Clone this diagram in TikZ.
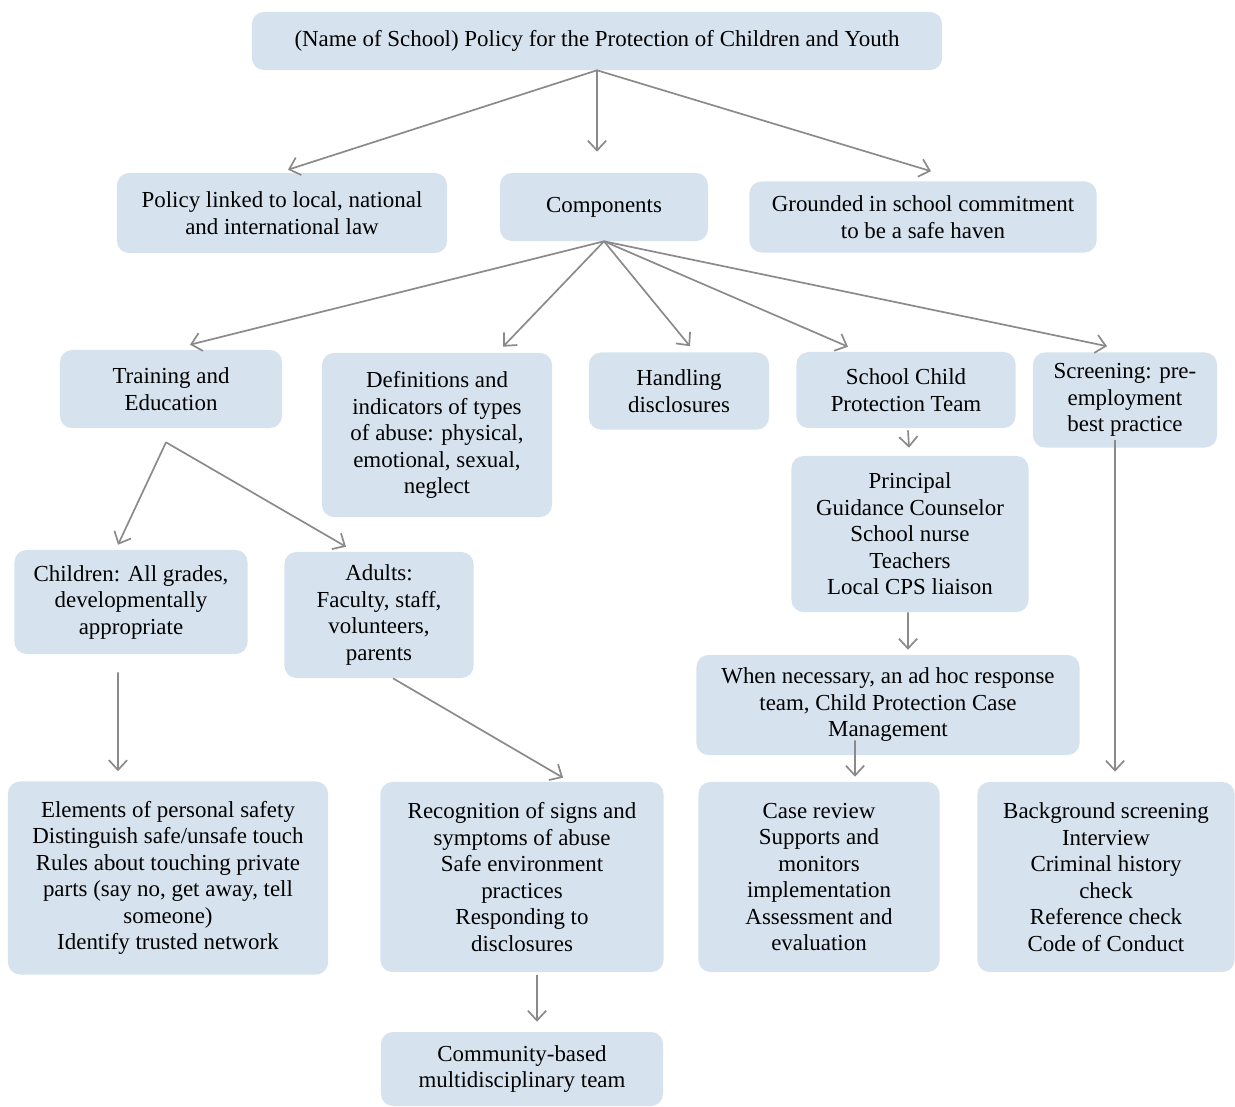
\documentclass[tikz,border=0pt]{standalone}
\usepackage{fontspec}
\setmainfont{Liberation Serif}
\usetikzlibrary{arrows.meta}

\definecolor{boxblue}{RGB}{214,227,238}
\definecolor{arrgrey}{RGB}{138,138,138}

\tikzset{
  box/.style={fill=boxblue,rounded corners=0.3cm,align=center,inner sep=0pt,
    font=\fontsize{16.3}{18.85}\selectfont},
  arr/.style={draw=arrgrey,line width=1.2pt,-{Straight Barb[length=7pt,width=13pt]}}
}

\begin{document}
\begin{tikzpicture}[x=0.025cm,y=-0.025cm]

\useasboundingbox (0,0) rectangle (1235,1106);

%Policy

\node[box,minimum width=17.25cm,minimum height=1.45cm] (top) at (597,41)
  {(Name of School) Policy for the Protection of Children and Youth};

\node[box,minimum width=8.25cm,minimum height=2cm] (law) at (282,213)
  {Policy linked to local, national\\and international law};
\node[box,minimum width=5.2cm,minimum height=1.7cm] (comp) at (604,207) {Components};
\node[box,minimum width=8.675cm,minimum height=1.775cm] (haven) at (923,217)
  {Grounded in school commitment\\to be a safe haven};

%Components

\node[box,minimum width=5.55cm,minimum height=1.95cm] (train) at (171,389)
  {Training and\\Education};
\node[box,minimum width=5.75cm,minimum height=4.1cm] (defs) at (437,435)
  {Definitions and\\indicators of types\\of abuse: physical,\\emotional, sexual,\\neglect};
\node[box,minimum width=4.5cm,minimum height=1.925cm] (disc) at (679,391)
  {Handling\\disclosures};
\node[box,minimum width=5.475cm,minimum height=1.9cm] (team) at (906,390)
  {School Child\\Protection Team};
\node[box,minimum width=4.6cm,minimum height=2.375cm] (screen) at (1125,400)
  {Screening: pre-\\employment\\best practice};

\node[box,minimum width=5.925cm,minimum height=3.9cm] (members) at (910,534)
  {Principal\\Guidance Counselor\\School nurse\\Teachers\\Local CPS liaison};
\node[box,minimum width=9.575cm,minimum height=2.5cm] (adhoc) at (888,705)
  {When necessary, an ad hoc response\\team, Child Protection Case\\Management};

\node[box,minimum width=5.825cm,minimum height=2.6cm] (kids) at (131,602)
  {Children: All grades,\\developmentally\\appropriate};
\node[box,minimum width=4.725cm,minimum height=3.15cm] (adults) at (379,615)
  {Adults:\\Faculty, staff,\\volunteers,\\parents};

%Bottom row

\node[box,minimum width=8cm,minimum height=4.825cm] (safety) at (168,878)
  {Elements of personal safety\\Distinguish safe/unsafe touch\\Rules about touching private\\parts (say no, get away, tell\\someone)\\Identify trusted network};
\node[box,minimum width=7.075cm,minimum height=4.75cm] (recog) at (522,877)
  {Recognition of signs and\\symptoms of abuse\\Safe environment\\practices\\Responding to\\disclosures};
\node[box,minimum width=6.025cm,minimum height=4.75cm] (review) at (819,877)
  {Case review\\Supports and\\monitors\\implementation\\Assessment and\\evaluation};
\node[box,minimum width=6.425cm,minimum height=4.75cm] (bground) at (1106,877)
  {Background screening\\Interview\\Criminal history\\check\\Reference check\\Code of Conduct};

\node[box,minimum width=7.05cm,minimum height=1.85cm] (commun) at (522,1069)
  {Community-based\\multidisciplinary team};

%Arrows

\draw[arr] (top.south) -- ([xshift=-0.175cm,yshift=0.525cm]comp.north);
\draw[arr] (top.south) -- ([xshift=0.15cm,yshift=0.075cm]law.north);
\draw[arr] (top.south) -- ([xshift=0.2cm,yshift=0.25cm]haven.north);

\draw[arr] (comp.south) -- ([xshift=0.475cm,yshift=0.125cm]train.north);
\draw[arr] (comp.south) -- ([xshift=1.65cm,yshift=0.15cm]defs.north);
\draw[arr] (comp.south) -- ([xshift=0.275cm,yshift=0.15cm]disc.north);
\draw[arr] (comp.south) -- ([xshift=-1.45cm,yshift=0.125cm]team.north);
\draw[arr] (comp.south) -- ([xshift=-0.45cm,yshift=0.15cm]screen.north);

\draw[arr] ([xshift=0.05cm,yshift=-0.05cm]team.south) -- ([xshift=-0.025cm,yshift=0.2cm]members.north);
\draw[arr] ([xshift=-0.05cm]members.south) -- ([xshift=0.5cm,yshift=0.125cm]adhoc.north);
\draw[arr] ([xshift=-0.825cm,yshift=0.375cm]adhoc.south) -- ([xshift=0.9cm,yshift=0.125cm]review.north);

\draw[arr] ([xshift=-0.125cm,yshift=-0.35cm]train.south) -- ([xshift=-0.325cm,yshift=0.125cm]kids.north);
\draw[arr] ([xshift=-0.125cm,yshift=-0.35cm]train.south) -- ([xshift=-0.825cm,yshift=0.125cm]adults.north);

\draw[arr] ([xshift=-0.325cm,yshift=-0.45cm]kids.south) -- ([xshift=-1.25cm,yshift=0.25cm]safety.north);
\draw[arr] ([xshift=0.35cm]adults.south) -- ([xshift=1.025cm,yshift=0.1cm]recog.north);
\draw[arr] ([xshift=0.375cm,yshift=-0.075cm]recog.south) -- ([xshift=0.375cm,yshift=0.25cm]commun.north);

\draw[arr] ([xshift=-0.25cm,yshift=0.2cm]screen.south) -- ([xshift=0.225cm,yshift=0.25cm]bground.north);

\end{tikzpicture}
\end{document}
